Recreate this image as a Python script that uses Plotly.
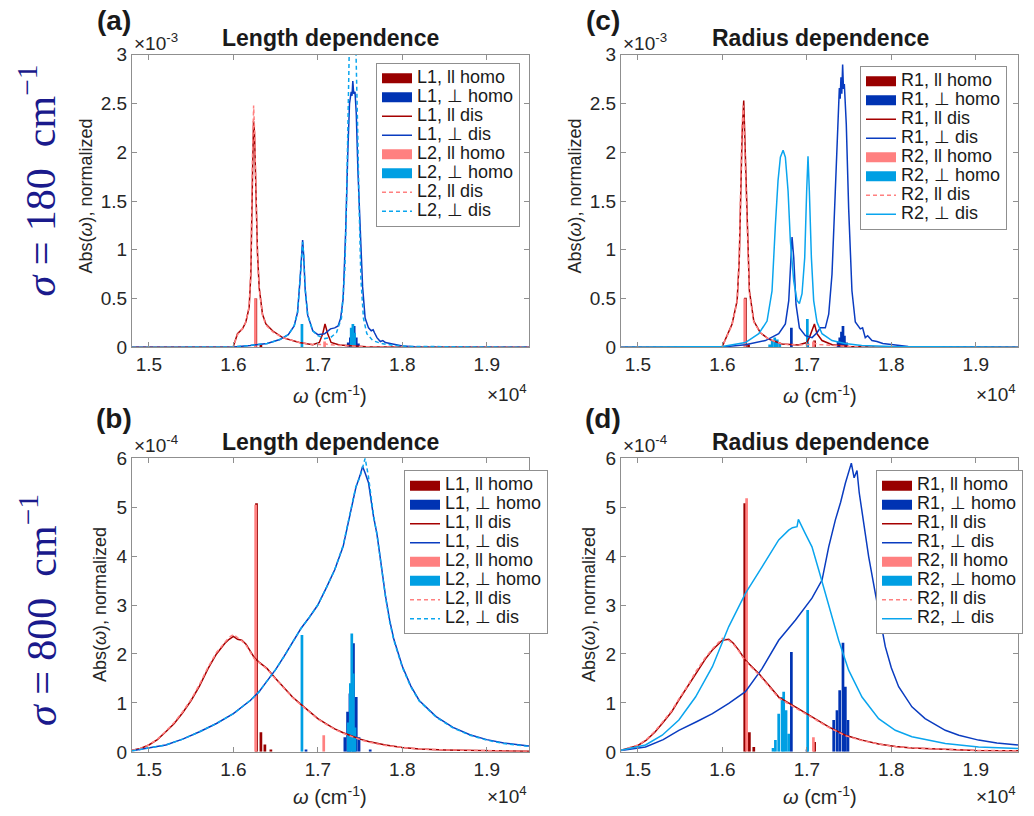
import plotly.graph_objects as go

# page is 1034x816; the html body has an 8px margin, so the figure itself is 1018x800
W, H = 1018, 800
OFF = 8
FONT = "Liberation Sans"

# ---------------- colours ----------------
C_DRED = "#990000"
C_DBLUE = "#0033b3"
C_PINK = "#ff8080"
C_LBLUE = "#009fe3"
C_LINE_DRED = "#a50000"
C_LINE_DBLUE = "#0a3cc0"
C_LINE_LBLUE = "#0aa5ee"

# ---------------- tick labels ----------------
x_tickvals = [15000, 16000, 17000, 18000, 19000]
x_ticktext = ["1.5", "1.6", "1.7", "1.8", "1.9"]
y_top_tickvals = [0, 0.5, 1, 1.5, 2, 2.5, 3]
y_top_ticktext = ["0", "0.5", "1", "1.5", "2", "2.5", "3"]
y_bot_tickvals = [0, 1, 2, 3, 4, 5, 6]
y_bot_ticktext = ["0", "1", "2", "3", "4", "5", "6"]

# ================= Panel (a): sigma = 180, length dependence (units 1e-3) =================
a_L1_par_homo_x = [16266, 16326]
a_L1_par_homo_y = [0.50, 0.03]
a_L1_perp_homo_x = [17360, 17385, 17410, 17430, 17455, 17480]
a_L1_perp_homo_y = [0.05, 0.10, 0.18, 0.22, 0.10, 0.04]
a_L2_par_homo_x = [16260, 17080]
a_L2_par_homo_y = [0.50, 0.06]
a_L2_perp_homo_x = [16812, 17395, 17415, 17435]
a_L2_perp_homo_y = [0.24, 0.20, 0.24, 0.15]

a_L1_par_dis_x = [14800, 15950, 16000, 16049, 16108, 16148, 16187, 16207, 16227, 16239, 16250,
                  16266, 16286, 16306, 16345, 16385, 16464, 16583, 16781, 16939, 17018, 17058,
                  17085, 17117, 17157, 17256, 17400, 17572, 17800, 19500]
a_L1_par_dis_y = [0.0, 0.0, 0.01, 0.14, 0.19, 0.26, 0.41, 0.75, 1.78, 2.32, 2.2,
                  1.6, 0.96, 0.61, 0.34, 0.24, 0.17, 0.10, 0.05, 0.027, 0.05, 0.14,
                  0.24, 0.14, 0.05, 0.024, 0.015, 0.007, 0.003, 0.0]
a_L2_par_dis_x = [14800, 15950, 16000, 16049, 16108, 16148, 16187, 16207, 16225, 16240, 16252,
                  16266, 16286, 16306, 16345, 16385, 16464, 16583, 16781, 16939, 17040, 17080,
                  17120, 17256, 17400, 17572, 17800, 19500]
a_L2_par_dis_y = [0.0, 0.0, 0.01, 0.13, 0.19, 0.26, 0.42, 0.8, 1.9, 2.48, 2.2,
                  1.55, 0.93, 0.6, 0.33, 0.23, 0.16, 0.10, 0.05, 0.03, 0.03, 0.04,
                  0.03, 0.02, 0.012, 0.006, 0.003, 0.0]
a_L1_perp_dis_x = [14800, 16000, 16200, 16400, 16550, 16650, 16720, 16760, 16790, 16808, 16820,
                   16832, 16850, 16880, 16940, 17000, 17080, 17150, 17200, 17240, 17270, 17300,
                   17330, 17355, 17375, 17395, 17405, 17414, 17425, 17440, 17455, 17475, 17500,
                   17530, 17560, 17600, 17632, 17655, 17671, 17700, 17740, 17770, 17800, 17850,
                   17900, 18000, 18200, 19500]
a_L1_perp_dis_y = [0.0, 0.005, 0.02, 0.04, 0.08, 0.13, 0.22, 0.36, 0.7, 1.0, 1.1,
                   0.95, 0.6, 0.33, 0.17, 0.13, 0.14, 0.19, 0.2, 0.22, 0.3, 0.5,
                   1.2, 2.0, 2.5, 2.62, 2.58, 2.73, 2.6, 2.62, 2.4, 1.8, 1.2,
                   0.62, 0.3, 0.2, 0.17, 0.18, 0.15, 0.1, 0.06, 0.07, 0.05, 0.04,
                   0.03, 0.015, 0.005, 0.0]
a_L2_perp_dis_x = [14800, 16000, 16200, 16400, 16550, 16650, 16720, 16760, 16790, 16808, 16820,
                   16832, 16850, 16880, 16940, 17000, 17080, 17150, 17220, 17280, 17320, 17340,
                   17360, 17375, 17400, 17420, 17440, 17455, 17470, 17490, 17510, 17540, 17580,
                   17650, 17750, 17900, 18100, 19500]
a_L2_perp_dis_y = [0.0, 0.005, 0.02, 0.04, 0.08, 0.13, 0.22, 0.36, 0.7, 1.0, 1.08,
                   0.95, 0.6, 0.33, 0.17, 0.12, 0.09, 0.1, 0.15, 0.3, 0.8, 1.5,
                   2.8, 3.2, 3.6, 3.7, 3.5, 3.0, 2.3, 1.4, 0.7, 0.3, 0.14,
                   0.07, 0.04, 0.02, 0.01, 0.0]

# ================= Panel (c): sigma = 180, radius dependence (units 1e-3) =================
c_R1_par_homo_x = [16273, 16310, 17092]
c_R1_par_homo_y = [0.51, 0.03, 0.07]
c_R1_perp_homo_x = [16817, 17010, 17370, 17390, 17410, 17428, 17445, 17470]
c_R1_perp_homo_y = [0.20, 0.05, 0.06, 0.10, 0.16, 0.22, 0.12, 0.05]
c_R2_par_homo_x = [16265, 17078]
c_R2_par_homo_y = [0.50, 0.06]
c_R2_perp_homo_x = [16560, 16590, 16620, 16650, 16680, 17006]
c_R2_perp_homo_y = [0.03, 0.07, 0.10, 0.08, 0.04, 0.29]

c_R1_par_dis_x = [14800, 15950, 16000, 16060, 16115, 16175, 16200, 16214, 16234, 16253, 16273,
                  16293, 16320, 16372, 16450, 16549, 16707, 16900, 17000, 17030, 17061, 17090,
                  17120, 17180, 17300, 17500, 17800, 19500]
c_R1_par_dis_y = [0.0, 0.0, 0.01, 0.14, 0.24, 0.48, 0.9, 1.43, 2.19, 2.53, 1.95,
                  1.26, 0.58, 0.27, 0.15, 0.085, 0.034, 0.025, 0.05, 0.1, 0.17, 0.24,
                  0.14, 0.07, 0.027, 0.01, 0.003, 0.0]
c_R2_par_dis_x = [14800, 15950, 16000, 16060, 16115, 16175, 16200, 16214, 16232, 16248, 16270,
                  16293, 16320, 16372, 16450, 16549, 16707, 16900, 17040, 17090, 17150, 17300,
                  17500, 17800, 19500]
c_R2_par_dis_y = [0.0, 0.0, 0.01, 0.13, 0.23, 0.47, 0.92, 1.5, 2.25, 2.48, 1.9,
                  1.22, 0.56, 0.26, 0.15, 0.085, 0.034, 0.025, 0.03, 0.04, 0.03, 0.02,
                  0.01, 0.003, 0.0]
c_R1_perp_dis_x = [14800, 16000, 16273, 16510, 16667, 16746, 16786, 16813, 16825, 16845, 16872,
                   16912, 16983, 17062, 17120, 17160, 17219, 17259, 17298, 17337, 17369, 17385,
                   17395, 17404, 17414, 17424, 17434, 17444, 17467, 17495, 17534, 17574, 17633,
                   17660, 17692, 17720, 17771, 17830, 17900, 18000, 18200, 19500]
c_R1_perp_dis_y = [0.0, 0.005, 0.027, 0.07, 0.14, 0.24, 0.48, 1.02, 1.13, 0.92, 0.44,
                   0.2, 0.12, 0.1, 0.15, 0.2, 0.2, 0.34, 0.75, 1.6, 2.46, 2.66,
                   2.55, 2.77, 2.6, 2.9, 2.65, 2.7, 2.29, 1.43, 0.58, 0.26, 0.19,
                   0.2, 0.1, 0.12, 0.07, 0.06, 0.04, 0.03, 0.01, 0.0]
c_R2_perp_dis_x = [14800, 16000, 16273, 16431, 16529, 16588, 16628, 16659, 16687, 16719, 16746,
                   16778, 16805, 16845, 16884, 16912, 16943, 16975, 16998, 17014, 17030, 17054,
                   17081, 17120, 17180, 17298, 17450, 17650, 18000, 19500]
c_R2_perp_dis_y = [0.0, 0.01, 0.05, 0.14, 0.27, 0.58, 1.26, 1.71, 1.95, 2.02, 1.95,
                   1.6, 1.09, 0.68, 0.48, 0.45, 0.55, 0.92, 1.6, 1.96, 1.6, 0.92,
                   0.48, 0.26, 0.14, 0.07, 0.04, 0.02, 0.01, 0.0]

# ================= Panel (b): sigma = 800, length dependence (units 1e-4) =================
b_L1_par_homo_x = [16274, 16326, 16373, 16444]
b_L1_par_homo_y = [5.08, 0.40, 0.15, 0.05]
b_L1_perp_homo_x = [16860, 17320, 17352, 17380, 17422, 17455, 17488, 17620]
b_L1_perp_homo_y = [0.05, 0.30, 0.82, 1.19, 2.22, 1.12, 0.30, 0.05]
b_L2_par_homo_x = [16264, 17070]
b_L2_par_homo_y = [5.05, 0.34]
b_L2_perp_homo_x = [16812, 17360, 17385, 17402, 17420, 17440]
b_L2_perp_homo_y = [2.39, 0.60, 1.40, 2.42, 1.60, 0.50]

b_L1_par_dis_x = [14800, 14900, 15000, 15100, 15200, 15300, 15400, 15500, 15600, 15700, 15800,
                  15900, 15950, 16000, 16050, 16100, 16150, 16200, 16250, 16300, 16400, 16500,
                  16600, 16700, 16800, 16900, 17000, 17100, 17200, 17300, 17400, 17500, 17600,
                  17800, 18000, 18200, 18500, 19000, 19500]
b_L1_par_dis_y = [0.03, 0.07, 0.14, 0.25, 0.41, 0.58, 0.80, 1.05, 1.35, 1.70, 2.00,
                  2.22, 2.30, 2.36, 2.30, 2.28, 2.20, 2.05, 1.92, 1.84, 1.70, 1.50,
                  1.30, 1.12, 0.97, 0.82, 0.68, 0.57, 0.47, 0.39, 0.32, 0.26, 0.21,
                  0.14, 0.09, 0.06, 0.04, 0.02, 0.01]
b_L2_par_dis_y = [0.03, 0.07, 0.14, 0.26, 0.42, 0.60, 0.82, 1.07, 1.38, 1.73, 2.03,
                  2.25, 2.34, 2.40, 2.33, 2.27, 2.18, 2.03, 1.90, 1.83, 1.69, 1.49,
                  1.29, 1.11, 0.96, 0.81, 0.67, 0.56, 0.46, 0.38, 0.31, 0.25, 0.20,
                  0.13, 0.09, 0.06, 0.04, 0.02, 0.01]
b_L1_perp_dis_x = [14800, 15000, 15200, 15400, 15600, 15800, 16000, 16200, 16300, 16400, 16500,
                   16600, 16700, 16800, 16900, 17000, 17100, 17200, 17300, 17350, 17400, 17450,
                   17500, 17530, 17560, 17600, 17630, 17660, 17700, 17750, 17800, 17850, 17900,
                   18000, 18100, 18200, 18300, 18400, 18600, 18800, 19000, 19200, 19500]
b_L1_perp_dis_y = [0.02, 0.08, 0.14, 0.26, 0.41, 0.58, 0.78, 1.05, 1.22, 1.45, 1.68,
                   1.95, 2.25, 2.52, 2.75, 3.00, 3.35, 3.72, 4.20, 4.60, 5.05, 5.40,
                   5.65, 5.83, 5.70, 5.50, 5.15, 4.80, 4.45, 3.80, 3.20, 2.69, 2.30,
                   1.75, 1.35, 1.05, 0.88, 0.72, 0.50, 0.35, 0.25, 0.18, 0.12]
b_L2_perp_dis_y = [0.02, 0.08, 0.14, 0.26, 0.41, 0.58, 0.78, 1.05, 1.22, 1.45, 1.68,
                   1.95, 2.25, 2.52, 2.75, 3.00, 3.35, 3.72, 4.22, 4.62, 5.05, 5.42,
                   5.62, 5.82, 6.00, 5.62, 5.20, 4.82, 4.45, 3.80, 3.18, 2.66, 2.28,
                   1.73, 1.33, 1.04, 0.87, 0.71, 0.49, 0.34, 0.24, 0.17, 0.11]

# ================= Panel (d): sigma = 800, radius dependence (units 1e-4) =================
d_R1_par_homo_x = [16265, 16320, 16372, 17092]
d_R1_par_homo_y = [5.08, 0.40, 0.10, 0.20]
d_R1_perp_homo_x = [16817, 17002, 17318, 17357, 17389, 17428, 17456, 17487]
d_R1_perp_homo_y = [2.04, 0.05, 0.65, 0.85, 1.26, 2.23, 1.33, 0.65]
d_R2_par_homo_x = [16287, 17078]
d_R2_par_homo_y = [5.18, 0.30]
d_R2_perp_homo_x = [16600, 16628, 16667, 16707, 16726, 16754, 16785, 17010]
d_R2_perp_homo_y = [0.08, 0.24, 0.78, 1.12, 1.23, 0.85, 0.37, 2.90]

d_R1_par_dis_x = [14800, 15000, 15100, 15200, 15288, 15400, 15485, 15600, 15682, 15800, 15882,
                  15950, 16000, 16076, 16130, 16194, 16273, 16350, 16431, 16550, 16667, 16864,
                  17061, 17259, 17456, 17653, 17850, 18050, 18244, 18600, 19000, 19500]
d_R1_par_dis_y = [0.03, 0.13, 0.24, 0.40, 0.58, 0.82, 1.06, 1.36, 1.60, 1.90, 2.08,
                  2.20, 2.28, 2.30, 2.22, 2.08, 1.87, 1.74, 1.60, 1.36, 1.12, 0.92,
                  0.72, 0.51, 0.34, 0.24, 0.16, 0.11, 0.08, 0.05, 0.03, 0.02]
d_R2_par_dis_y = [0.03, 0.14, 0.25, 0.42, 0.60, 0.84, 1.08, 1.38, 1.63, 1.93, 2.10,
                  2.22, 2.32, 2.28, 2.20, 2.06, 1.85, 1.72, 1.58, 1.34, 1.10, 0.90,
                  0.70, 0.50, 0.33, 0.23, 0.16, 0.11, 0.08, 0.05, 0.03, 0.02]
d_R1_perp_dis_x = [14800, 15090, 15300, 15485, 15700, 15882, 16076, 16273, 16470, 16667, 16864,
                   17061, 17180, 17259, 17338, 17400, 17456, 17500, 17527, 17560, 17594, 17620,
                   17653, 17700, 17732, 17811, 17870, 17929, 18000, 18087, 18244, 18400, 18639,
                   18800, 19033, 19250, 19500]
d_R1_perp_dis_y = [0.03, 0.10, 0.25, 0.44, 0.62, 0.78, 0.99, 1.23, 1.70, 2.28, 2.69,
                   3.14, 3.51, 4.19, 4.74, 5.10, 5.49, 5.72, 5.90, 5.60, 5.75, 5.30,
                   4.94, 4.40, 3.99, 3.24, 2.65, 2.15, 1.72, 1.33, 0.92, 0.68, 0.44,
                   0.34, 0.24, 0.18, 0.14]
d_R2_perp_dis_x = [14800, 15090, 15288, 15485, 15682, 15882, 16076, 16273, 16470, 16667, 16785,
                   16830, 16884, 16900, 16982, 17061, 17140, 17259, 17377, 17495, 17653, 17850,
                   18047, 18244, 18639, 19033, 19500]
d_R2_perp_dis_y = [0.03, 0.14, 0.34, 0.65, 1.12, 1.74, 2.56, 3.24, 3.78, 4.33, 4.53,
                   4.58, 4.60, 4.75, 4.46, 4.19, 3.72, 2.97, 2.28, 1.67, 1.12, 0.68,
                   0.44, 0.31, 0.17, 0.10, 0.07]


# ---------------- helpers (page pixel -> paper fraction, calibrated) ----------------
def px(x):
    return (x - OFF) / W


def py(y):
    return (797.2 - y) / 780.0


fig = go.Figure()

BAR_W = 32
LEG_FS = 12            # controls legend row pitch
LEG_TXT = 18           # visible legend text size


def lg(s):
    return f'<span style="font-size:{LEG_TXT}px">{s}</span>'


_grp = [0]


def add_bar(x, y, name, color, ax, leg):
    _grp[0] += 1
    g = f"g{_grp[0]}"
    fig.add_trace(go.Bar(x=x, y=y, name=lg(name), width=BAR_W, marker=dict(color=color, line=dict(width=0)),
                         xaxis="x" + ax, yaxis="y" + ax, legend=leg, legendgroup=g, showlegend=False,
                         opacity=1))
    # legend swatch drawn as a wide filled rectangle (MATLAB-style bar legend icon)
    fig.add_trace(go.Scatter(x=[None], y=[None], name=lg(name), mode="lines",
                             line=dict(color=color, width=13), xaxis="x" + ax, yaxis="y" + ax,
                             legend=leg, legendgroup=g, hoverinfo="skip"))


def add_line(x, y, name, color, ax, leg, dash="solid", width=1.5):
    fig.add_trace(go.Scatter(x=x, y=y, name=lg(name), mode="lines", line=dict(color=color, width=width, dash=dash),
                             xaxis="x" + ax, yaxis="y" + ax, legend=leg))


DASH = "4px,3px"
PERP = "\u22a5"

# panel (a) -> axes 1
add_bar(a_L1_par_homo_x, a_L1_par_homo_y, "L1, ll homo", C_DRED, "", "legend")
add_bar(a_L1_perp_homo_x, a_L1_perp_homo_y, f"L1, {PERP} homo", C_DBLUE, "", "legend")
add_line(a_L1_par_dis_x, a_L1_par_dis_y, "L1, ll dis", C_LINE_DRED, "", "legend")
add_line(a_L1_perp_dis_x, a_L1_perp_dis_y, f"L1, {PERP} dis", C_LINE_DBLUE, "", "legend")
add_bar(a_L2_par_homo_x, a_L2_par_homo_y, "L2, ll homo", C_PINK, "", "legend")
add_bar(a_L2_perp_homo_x, a_L2_perp_homo_y, f"L2, {PERP} homo", C_LBLUE, "", "legend")
add_line(a_L2_par_dis_x, a_L2_par_dis_y, "L2, ll dis", C_PINK, "", "legend", dash=DASH)
add_line(a_L2_perp_dis_x, a_L2_perp_dis_y, f"L2, {PERP} dis", C_LINE_LBLUE, "", "legend", dash=DASH)

# panel (c) -> axes 2
add_bar(c_R1_par_homo_x, c_R1_par_homo_y, "R1, ll homo", C_DRED, "2", "legend2")
add_bar(c_R1_perp_homo_x, c_R1_perp_homo_y, f"R1, {PERP} homo", C_DBLUE, "2", "legend2")
add_line(c_R1_par_dis_x, c_R1_par_dis_y, "R1, ll dis", C_LINE_DRED, "2", "legend2")
add_line(c_R1_perp_dis_x, c_R1_perp_dis_y, f"R1, {PERP} dis", C_LINE_DBLUE, "2", "legend2")
add_bar(c_R2_par_homo_x, c_R2_par_homo_y, "R2, ll homo", C_PINK, "2", "legend2")
add_bar(c_R2_perp_homo_x, c_R2_perp_homo_y, f"R2, {PERP} homo", C_LBLUE, "2", "legend2")
add_line(c_R2_par_dis_x, c_R2_par_dis_y, "R2, ll dis", C_PINK, "2", "legend2", dash=DASH)
add_line(c_R2_perp_dis_x, c_R2_perp_dis_y, f"R2, {PERP} dis", C_LINE_LBLUE, "2", "legend2")

# panel (b) -> axes 3
add_bar(b_L1_par_homo_x, b_L1_par_homo_y, "L1, ll homo", C_DRED, "3", "legend3")
add_bar(b_L1_perp_homo_x, b_L1_perp_homo_y, f"L1, {PERP} homo", C_DBLUE, "3", "legend3")
add_line(b_L1_par_dis_x, b_L1_par_dis_y, "L1, ll dis", C_LINE_DRED, "3", "legend3")
add_line(b_L1_perp_dis_x, b_L1_perp_dis_y, f"L1, {PERP} dis", C_LINE_DBLUE, "3", "legend3")
add_bar(b_L2_par_homo_x, b_L2_par_homo_y, "L2, ll homo", C_PINK, "3", "legend3")
add_bar(b_L2_perp_homo_x, b_L2_perp_homo_y, f"L2, {PERP} homo", C_LBLUE, "3", "legend3")
add_line(b_L1_par_dis_x, b_L2_par_dis_y, "L2, ll dis", C_PINK, "3", "legend3", dash=DASH)
add_line(b_L1_perp_dis_x, b_L2_perp_dis_y, f"L2, {PERP} dis", C_LINE_LBLUE, "3", "legend3", dash=DASH)

# panel (d) -> axes 4
add_bar(d_R1_par_homo_x, d_R1_par_homo_y, "R1, ll homo", C_DRED, "4", "legend4")
add_bar(d_R1_perp_homo_x, d_R1_perp_homo_y, f"R1, {PERP} homo", C_DBLUE, "4", "legend4")
add_line(d_R1_par_dis_x, d_R1_par_dis_y, "R1, ll dis", C_LINE_DRED, "4", "legend4")
add_line(d_R1_perp_dis_x, d_R1_perp_dis_y, f"R1, {PERP} dis", C_LINE_DBLUE, "4", "legend4")
add_bar(d_R2_par_homo_x, d_R2_par_homo_y, "R2, ll homo", C_PINK, "4", "legend4")
add_bar(d_R2_perp_homo_x, d_R2_perp_homo_y, f"R2, {PERP} homo", C_LBLUE, "4", "legend4")
add_line(d_R1_par_dis_x, d_R2_par_dis_y, "R2, ll dis", C_PINK, "4", "legend4", dash=DASH)
add_line(d_R2_perp_dis_x, d_R2_perp_dis_y, f"R2, {PERP} dis", C_LINE_LBLUE, "4", "legend4")

# ---------------- axes ----------------
XL = [px(132), px(529)]
XR = [px(621), px(1018)]
YT = [py(347), py(54)]
YB = [py(752), py(458)]

AXIS_COL = "#8f8f8f"
TICK_FONT = dict(family=FONT, size=19, color="#262626")


def xaxis(domain, anchor):
    return dict(domain=domain, anchor=anchor, range=[14800, 19500], tickvals=x_tickvals, ticktext=x_ticktext,
                showline=True, linecolor=AXIS_COL, linewidth=1, mirror="ticks", ticks="inside", ticklen=5,
                tickcolor=AXIS_COL, showgrid=False, zeroline=False, tickfont=TICK_FONT, fixedrange=True)


def yaxis(domain, anchor, top):
    return dict(domain=domain, anchor=anchor, range=[0, 3] if top else [0, 6],
                tickvals=y_top_tickvals if top else y_bot_tickvals,
                ticktext=y_top_ticktext if top else y_bot_ticktext,
                showline=True, linecolor=AXIS_COL, linewidth=1, mirror="ticks", ticks="inside", ticklen=5,
                tickcolor=AXIS_COL, showgrid=False, zeroline=False, tickfont=TICK_FONT, fixedrange=True)


def legend(x, y):
    return dict(x=px(x), y=py(y), xanchor="left", yanchor="top", bgcolor="white", bordercolor=AXIS_COL,
                borderwidth=1, font=dict(family=FONT, size=LEG_FS, color="#1a1a1a"), tracegroupgap=0,
                itemwidth=30, traceorder="normal")


fig.update_layout(
    width=W, height=H, autosize=False,
    margin=dict(l=0, r=0, t=0, b=0, pad=0),
    paper_bgcolor="white", plot_bgcolor="white",
    barmode="overlay", showlegend=True,
    xaxis=xaxis(XL, "y"), yaxis=yaxis(YT, "x", True),
    xaxis2=xaxis(XR, "y2"), yaxis2=yaxis(YT, "x2", True),
    xaxis3=xaxis(XL, "y3"), yaxis3=yaxis(YB, "x3", False),
    xaxis4=xaxis(XR, "y4"), yaxis4=yaxis(YB, "x4", False),
    legend=legend(376, 62), legend2=legend(860, 65),
    legend3=legend(404, 470), legend4=legend(876, 470),
)

ann = []


def text(x, y, s, size, xanchor="center", angle=0, color="#1a1a1a", family=FONT):
    ann.append(dict(x=px(x), y=py(y), xref="paper", yref="paper", text=s, showarrow=False,
                    xanchor=xanchor, yanchor="middle", textangle=angle,
                    font=dict(family=family, size=size, color=color)))


# panel letters
for (lx, ly, s) in [(114, 20, "(a)"), (603, 20, "(c)"), (114, 418, "(b)"), (603, 418, "(d)")]:
    text(lx, ly, f"<b>{s}</b>", 28)
# titles
text(330, 37, "<b>Length dependence</b>", 23)
text(820, 37, "<b>Radius dependence</b>", 23)
text(330, 442, "<b>Length dependence</b>", 23)
text(820, 442, "<b>Radius dependence</b>", 23)
# y exponents
text(132, 41, "\u00d710<sup>-3</sup>", 19, xanchor="left", color="#262626")
text(621, 41, "\u00d710<sup>-3</sup>", 19, xanchor="left", color="#262626")
text(132, 444, "\u00d710<sup>-4</sup>", 19, xanchor="left", color="#262626")
text(621, 444, "\u00d710<sup>-4</sup>", 19, xanchor="left", color="#262626")
# x exponents
for (ex, ey) in [(529, 393), (1018, 393), (529, 795), (1018, 795)]:
    text(ex, ey, "\u00d710<sup>4</sup>", 19, xanchor="right", color="#262626")
# x titles
for (tx, ty) in [(330, 394), (820, 394), (330, 796), (820, 796)]:
    text(tx, ty, "<i>\u03c9</i> (cm<sup>-1</sup>)", 20, color="#262626")
# y titles
for (tx, ty) in [(86, 196), (575, 196), (100, 605), (589, 605)]:
    text(tx, ty, "Abs(<i>\u03c9</i>), normalized", 18, angle=-90, color="#262626")
# sigma labels
SIG_COL = "#1a1a8c"
text(38, 180, "<i>\u03c3</i> = 180&nbsp; cm<sup>\u22121</sup>", 42, angle=-90, color=SIG_COL, family="Liberation Serif")
text(38, 610, "<i>\u03c3</i> = 800&nbsp; cm<sup>\u22121</sup>", 42, angle=-90, color=SIG_COL, family="Liberation Serif")

fig.update_layout(annotations=ann)
fig.write_html("out.html")
